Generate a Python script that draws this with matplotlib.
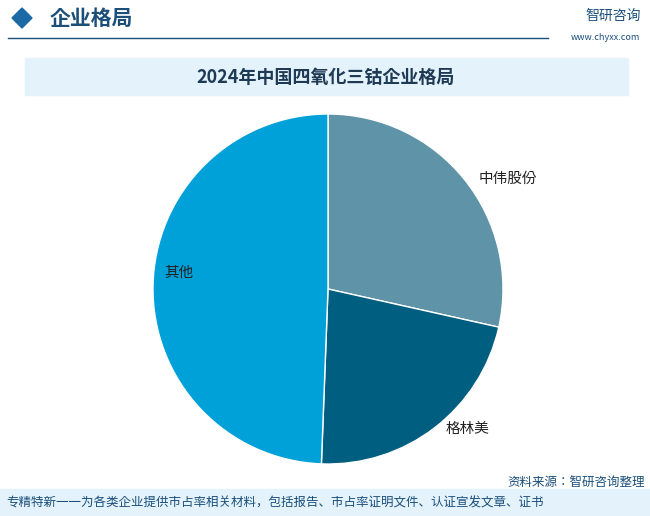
import matplotlib
matplotlib.use("Agg")
import matplotlib.pyplot as plt
from matplotlib.patches import Rectangle, Polygon
from matplotlib import font_manager as fm

names = {f.name for f in fm.fontManager.ttflist}
cjk = [n for n in ["Noto Sans CJK SC", "Noto Sans CJK JP", "Noto Sans CJK TC", "Noto Sans CJK KR"] if n in names]
plt.rcParams['font.family'] = cjk + ["DejaVu Sans"]

labels = ["中伟股份", "格林美", "其他"]
values = [28.5, 22.1, 49.4]
colors = ["#5f93a8", "#005f80", "#00a0d8"]
label_pos = [(1.03, 0.63), (0.8, -0.8), (-0.85, 0.09)]

W, H = 650, 516
fig = plt.figure(figsize=(W/100, H/100), dpi=100)
fig.patch.set_facecolor("white")

fig.patches.append(Polygon([[12/W, 1-18/H], [22/W, 1-8/H], [32/W, 1-18/H], [22/W, 1-28/H]],
                           closed=True, transform=fig.transFigure, color="#1b6aa5"))
fig.text(50/W, 1-18/H, "企业格局", fontsize=15, fontweight="bold", color="#1b4f7a", va="center")
fig.lines.append(plt.Line2D([8/W, 548/W], [1-38/H, 1-38/H], transform=fig.transFigure, color="#1b4f7a", lw=1))
fig.text(585/W, 1-16/H, "智研咨询", fontsize=10, color="#1b4f7a", va="center")
fig.text(640/W, 1-37/H, "www.chyxx.com", fontsize=6.5, color="#1b4f7a", va="center", ha="right")

fig.patches.append(Rectangle((25/W, 1-95/H), 603/W, 37/H, transform=fig.transFigure,
                             color="#e3f2fb", zorder=0))
fig.text(326/W, 1-77/H, "2024年中国四氧化三钴企业格局", fontsize=13, fontweight="bold",
         color="#1f3a55", ha="center", va="center")

fig.patches.append(Rectangle((0, 0), 1, 27/H, transform=fig.transFigure, color="#e3f2fb", zorder=0))
fig.text(6/W, 13/H, "专精特新一一为各类企业提供市占率相关材料，包括报告、市占率证明文件、认证宣发文章、证书",
         fontsize=9, color="#1b4f7a", va="center")
fig.text(645/W, 1-482/H, "资料来源：智研咨询整理", fontsize=9, color="#1b4f7a", va="center", ha="right")

r = 175
cx, cy = 328, 289
ax = fig.add_axes([(cx-r)/W, (H-cy-r)/H, 2*r/W, 2*r/H])
wedges, _ = ax.pie(values, colors=colors, startangle=90, counterclock=False,
                   wedgeprops=dict(edgecolor="white", linewidth=1))
ax.set_xlim(-1, 1)
ax.set_ylim(-1, 1)
ax.set_aspect("equal")
for lab, (x, y) in zip(labels, label_pos):
    ax.text(x, y, lab, fontsize=10.5, color="#222222", ha="center", va="center", clip_on=False)
fig.savefig("out.png", dpi=100)
